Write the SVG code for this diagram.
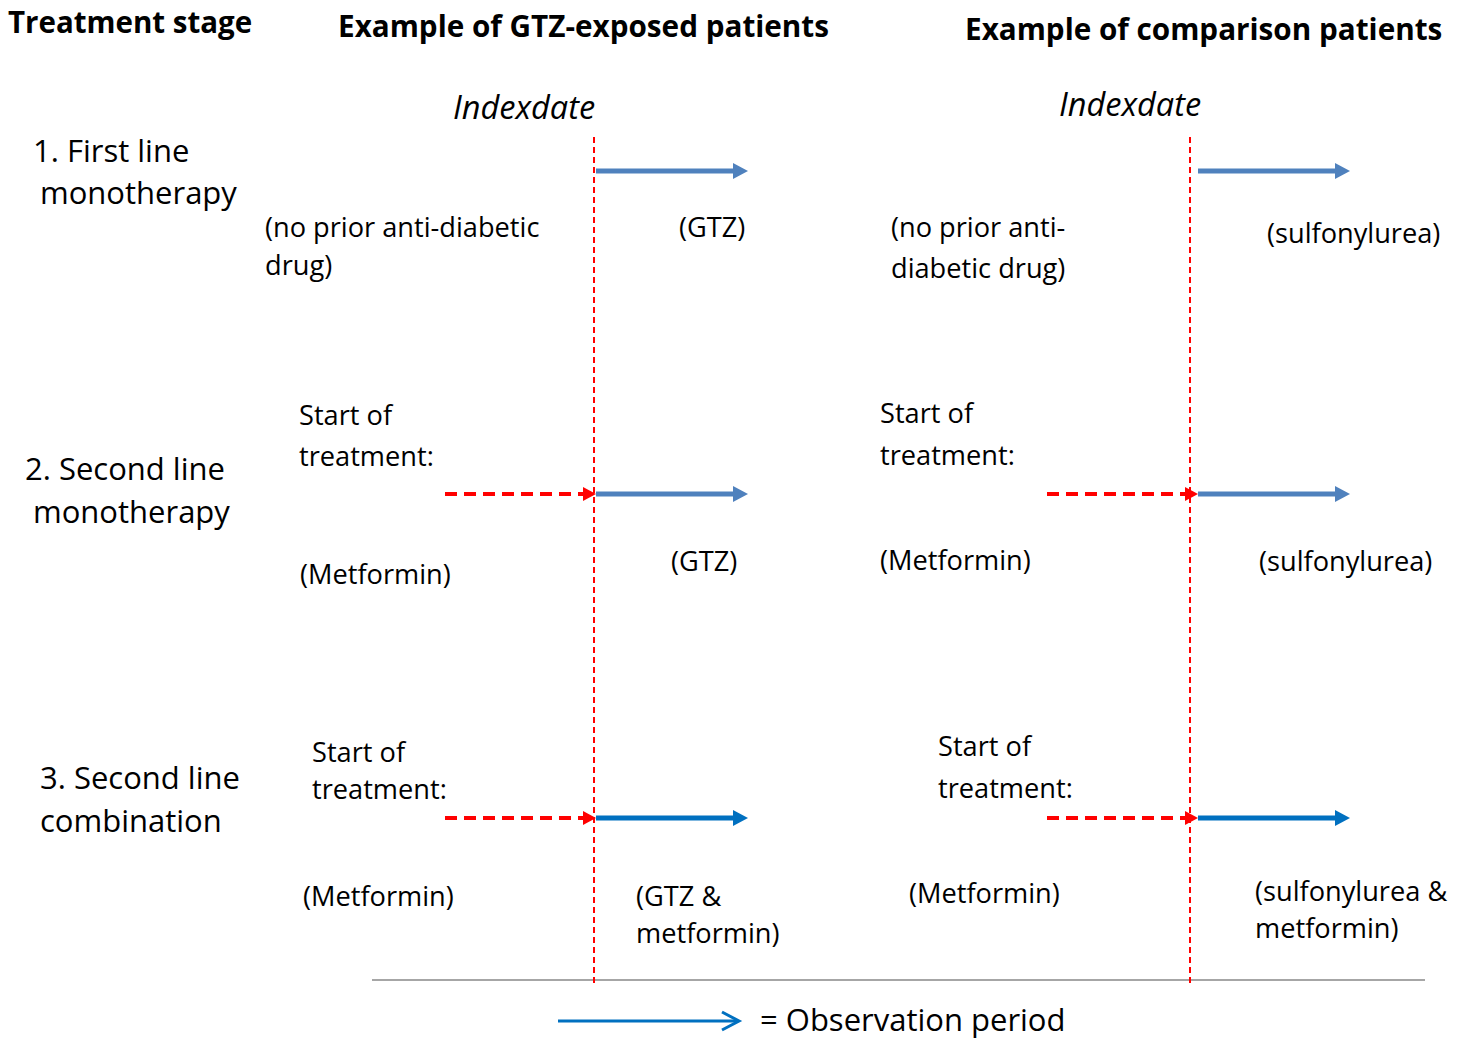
<svg xmlns="http://www.w3.org/2000/svg" width="1465" height="1038" viewBox="0 0 1465 1038">
<style>
text{font-family:"Open Sans","Noto Sans",sans-serif;fill:#000}
.h{font-weight:bold;font-size:29.7px}
.h0{font-weight:bold;font-size:29.5px}
.ix{font-style:italic;font-size:32.5px}
.st{font-size:31px}
.t{font-size:27.2px}
.vd{stroke:#FF0000;stroke-width:2;stroke-dasharray:6,4;fill:none}
.rd{stroke:#FF0000;stroke-width:4;stroke-dasharray:12,7;fill:none}
.b1{stroke:#4F81BD;stroke-width:5;fill:none}
.b2{stroke:#0070C0;stroke-width:5;fill:none}
</style>
<defs>
<marker id="ah1" markerWidth="16" markerHeight="16" refX="0" refY="8" orient="auto" markerUnits="userSpaceOnUse"><path d="M0,0 L15,8 L0,16 Z" fill="#4F81BD"/></marker>
<marker id="ah2" markerWidth="16" markerHeight="16" refX="0" refY="8" orient="auto" markerUnits="userSpaceOnUse"><path d="M0,0 L15,8 L0,16 Z" fill="#0070C0"/></marker>
<marker id="ahr" markerWidth="14" markerHeight="14" refX="13" refY="7" orient="auto" markerUnits="userSpaceOnUse"><path d="M0,0 L13,7 L0,14 Z" fill="#FF0000"/></marker>
</defs>
<rect width="1465" height="1038" fill="#fff"/>
<g id="headers">
<text class="h0" x="8" y="33">Treatment stage</text>
<text class="h" x="338" y="37">Example of GTZ-exposed patients</text>
<text class="h" x="965" y="40">Example of comparison patients</text>
<text class="ix" x="453" y="119">Indexdate</text>
<text class="ix" x="1059" y="116">Indexdate</text>
</g>
<g id="stage1"><text class="st" x="33" y="162">1. First line</text><text class="st" x="40" y="204">monotherapy</text></g>
<g id="stage2"><text class="st" x="25" y="480">2. Second line</text><text class="st" x="33" y="523">monotherapy</text></g>
<g id="stage3"><text class="st" x="40" y="789">3. Second line</text><text class="st" x="40" y="832">combination</text></g>
<g id="labels">
<text class="t" x="265" y="237">(no prior anti-diabetic</text>
<text class="t" x="265" y="275">drug)</text>
<text class="t" x="679" y="237">(GTZ)</text>
<text class="t" x="891" y="237">(no prior anti-</text>
<text class="t" x="891" y="278">diabetic drug)</text>
<text class="t" x="1267" y="243">(sulfonylurea)</text>
<text class="t" x="299" y="425">Start of</text>
<text class="t" x="299" y="466">treatment:</text>
<text class="t" x="300" y="584">(Metformin)</text>
<text class="t" x="671" y="571">(GTZ)</text>
<text class="t" x="880" y="423">Start of</text>
<text class="t" x="880" y="465">treatment:</text>
<text class="t" x="880" y="570">(Metformin)</text>
<text class="t" x="1259" y="571">(sulfonylurea)</text>
<text class="t" x="312" y="762">Start of</text>
<text class="t" x="312" y="799">treatment:</text>
<text class="t" x="303" y="906">(Metformin)</text>
<text class="t" x="636" y="906">(GTZ &amp;</text>
<text class="t" x="636" y="943">metformin)</text>
<text class="t" x="938" y="756">Start of</text>
<text class="t" x="938" y="798">treatment:</text>
<text class="t" x="909" y="903">(Metformin)</text>
<text class="t" x="1255" y="901">(sulfonylurea &amp;</text>
<text class="t" x="1255" y="938">metformin)</text>
</g>
<g id="connectors">
<line x1="372" y1="980" x2="1425" y2="980" stroke="#A6A6A6" stroke-width="2"/>
<line class="vd" x1="594" y1="137" x2="594" y2="985"/>
<line class="vd" x1="1190" y1="137" x2="1190" y2="985"/>
<line class="b1" x1="596" y1="171" x2="733" y2="171" marker-end="url(#ah1)"/>
<line class="b1" x1="1198" y1="171" x2="1335" y2="171" marker-end="url(#ah1)"/>
<line class="rd" x1="445" y1="494" x2="596" y2="494" marker-end="url(#ahr)"/>
<line class="b1" x1="596" y1="494" x2="733" y2="494" marker-end="url(#ah1)"/>
<line class="rd" x1="1047" y1="494" x2="1198" y2="494" marker-end="url(#ahr)"/>
<line class="b1" x1="1198" y1="494" x2="1335" y2="494" marker-end="url(#ah1)"/>
<line class="rd" x1="445" y1="818" x2="596" y2="818" marker-end="url(#ahr)"/>
<line class="b2" x1="596" y1="818" x2="733" y2="818" marker-end="url(#ah2)"/>
<line class="rd" x1="1047" y1="818" x2="1198" y2="818" marker-end="url(#ahr)"/>
<line class="b2" x1="1198" y1="818" x2="1335" y2="818" marker-end="url(#ah2)"/>
</g>
<g id="legend">
<line x1="558" y1="1021" x2="738" y2="1021" stroke="#0070C0" stroke-width="3"/>
<polyline points="722,1012 739,1021 722,1030" fill="none" stroke="#0070C0" stroke-width="3"/>
<text x="760" y="1031" style="font-size:31px">= Observation period</text>
</g>
</svg>
